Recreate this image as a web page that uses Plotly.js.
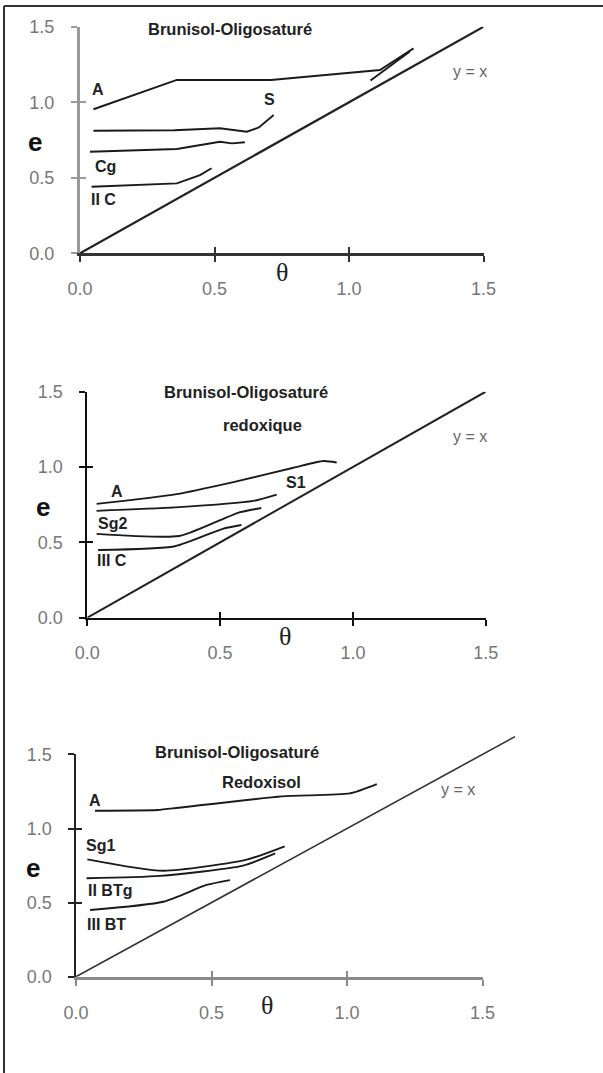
<!DOCTYPE html>
<html><head><meta charset="utf-8">
<script src="https://cdn.plot.ly/plotly-3.0.1.min.js"></script>
<style>html,body{margin:0;padding:0;background:#fff}#chart{width:603px;height:1073px}</style>
</head><body><div id="chart"></div>
<script>
// ---------- data ----------
const tickVals = [0, 0.5, 1.0, 1.5];
const tickText = ['0.0', '0.5', '1.0', '1.5'];

// Panel 1 : Brunisol-Oligosaturé
const p1_A_x   = [0.05, 0.36, 0.71, 0.82, 1.115, 1.24];
const p1_A_y   = [0.954, 1.148, 1.148, 1.166, 1.214, 1.357];
const p1_A2_x  = [1.08, 1.225];
const p1_A2_y  = [1.145, 1.335];
const p1_S_x   = [0.05, 0.35, 0.52, 0.62, 0.665, 0.72];
const p1_S_y   = [0.812, 0.815, 0.828, 0.805, 0.834, 0.916];
const p1_Cg_x  = [0.037, 0.36, 0.52, 0.565, 0.613];
const p1_Cg_y  = [0.673, 0.691, 0.739, 0.728, 0.735];
const p1_IIC_x = [0.043, 0.36, 0.446, 0.489];
const p1_IIC_y = [0.441, 0.463, 0.518, 0.563];

// Panel 2 : Brunisol-Oligosaturé redoxique
const p2_A_x   = [0.035, 0.336, 0.55, 0.776, 0.889, 0.939];
const p2_A_y   = [0.755, 0.82, 0.90, 0.995, 1.04, 1.03];
const p2_S1_x  = [0.035, 0.33, 0.625, 0.713];
const p2_S1_y  = [0.709, 0.732, 0.775, 0.817];
const p2_Sg2_x = [0.035, 0.345, 0.487, 0.575, 0.655];
const p2_Sg2_y = [0.556, 0.542, 0.637, 0.70, 0.728];
const p2_IIIC_x = [0.041, 0.33, 0.51, 0.58];
const p2_IIIC_y = [0.449, 0.474, 0.59, 0.615];

// Panel 3 : Brunisol-Oligosaturé Redoxisol
const p3_A_x    = [0.07, 0.30, 0.378, 0.76, 1.01, 1.11];
const p3_A_y    = [1.12, 1.125, 1.14, 1.217, 1.237, 1.30];
const p3_Sg1_x  = [0.042, 0.322, 0.63, 0.77];
const p3_Sg1_y  = [0.792, 0.715, 0.79, 0.88];
const p3_IIBTg_x = [0.039, 0.31, 0.617, 0.735];
const p3_IIBTg_y = [0.664, 0.68, 0.75, 0.832];
const p3_IIIBT_x = [0.052, 0.322, 0.482, 0.568];
const p3_IIIBT_y = [0.45, 0.506, 0.619, 0.652];

// y = x reference lines
const diag12 = [0, 1.5];
const diag3  = [0, 1.62];

// ---------- layout helpers ----------
const W = 603, H = 1073;
const panels = [
  {x0: 80,   sx: 269,   y0: 253.3, sy: 151,   ax: '',  ov: '4',
   yLine: {c: '#9a9a9a', w: 3}, xLine: {c: '#333', w: 3}},
  {x0: 87.3, sx: 265.6, y0: 617.7, sy: 150.7, ax: '2', ov: '5',
   yLine: {c: '#111', w: 2}, xLine: {c: '#111', w: 2.5}},
  {x0: 76,   sx: 271,   y0: 976.7, sy: 148.2, ax: '3', ov: '6',
   yLine: {c: '#222', w: 1.6}, xLine: {c: '#8a8a8a', w: 3.5}}
];
const R = tickVals[tickVals.length - 1];

function P(p, xd, yd) {
  return {x: (p.x0 + xd * p.sx) / W, y: (H - (p.y0 - yd * p.sy)) / H};
}
function dom(p, r) {
  return {
    x: [p.x0 / W, (p.x0 + r * p.sx) / W],
    y: [(H - p.y0) / H, (H - (p.y0 - r * p.sy)) / H]
  };
}

const tickFont = {family: 'Liberation Sans, Arial, sans-serif', size: 18, color: '#777'};
const layout = {
  width: W, height: H,
  margin: {l: 0, r: 0, t: 0, b: 0},
  paper_bgcolor: '#fff', plot_bgcolor: 'rgba(0,0,0,0)',
  showlegend: false,
  annotations: [], shapes: []
};

panels.forEach((p) => {
  const d = dom(p, R);
  const xn = 'xaxis' + p.ax, yn = 'yaxis' + p.ax;
  const xo = 'xaxis' + p.ov, yo = 'yaxis' + p.ov;
  const xid = 'x' + p.ax, yid = 'y' + p.ax;
  const common = {range: [0, R], tickvals: tickVals, ticktext: tickText, showgrid: false,
    zeroline: false, fixedrange: true, automargin: false, ticklen: 6, tickfont: tickFont};
  layout[xn] = Object.assign({}, common, {domain: d.x, anchor: yid, showline: true,
    linecolor: p.xLine.c, linewidth: p.xLine.w, ticks: 'outside', tickcolor: p.xLine.c,
    tickwidth: 2, ticklabelstandoff: 11});
  layout[yn] = Object.assign({}, common, {domain: d.y, anchor: xid, showline: true,
    linecolor: p.yLine.c, linewidth: p.yLine.w, ticks: 'outside', tickcolor: p.yLine.c,
    tickwidth: 2, ticklabelstandoff: 13});
  layout[xo] = Object.assign({}, common, {overlaying: xid, anchor: yid, side: 'bottom',
    showline: false, ticks: 'inside', tickcolor: p.xLine.c, tickwidth: 2, showticklabels: false});
  layout[yo] = Object.assign({}, common, {overlaying: yid, anchor: xid, side: 'left',
    showline: false, ticks: 'inside', tickcolor: p.yLine.c, tickwidth: 2, showticklabels: false});
});
// hidden axes for the long y = x line of panel 3
(function () {
  const p = panels[2], d = dom(p, 1.64);
  layout.xaxis7 = {domain: d.x, range: [0, 1.64], visible: false, fixedrange: true, anchor: 'y7'};
  layout.yaxis7 = {domain: d.y, range: [0, 1.64], visible: false, fixedrange: true, anchor: 'x7'};
})();

// ---------- traces ----------
const traces = [];
function line(x, y, xa, ya, opt) {
  opt = opt || {};
  traces.push({type: 'scatter', mode: 'lines', x: x, y: y, xaxis: xa, yaxis: ya,
    hoverinfo: 'skip', cliponaxis: false,
    line: Object.assign({color: '#1a1a1a', width: 1.9}, opt)});
}
// panel 1
line(p1_A_x, p1_A_y, 'x4', 'y');
line(p1_A2_x, p1_A2_y, 'x', 'y4');
line(p1_S_x, p1_S_y, 'x', 'y');
line(p1_Cg_x, p1_Cg_y, 'x', 'y');
line(p1_IIC_x, p1_IIC_y, 'x', 'y');
line(diag12, diag12, 'x', 'y', {width: 2.2, color: '#222'});
// panel 2
const sp = {shape: 'spline', smoothing: 0.6};
line(p2_A_x, p2_A_y, 'x5', 'y2', sp);
line(p2_S1_x, p2_S1_y, 'x2', 'y5', sp);
line(p2_Sg2_x, p2_Sg2_y, 'x2', 'y2', sp);
line(p2_IIIC_x, p2_IIIC_y, 'x2', 'y2', sp);
line(diag12, diag12, 'x2', 'y2', {width: 2, color: '#222'});
// panel 3
line(p3_A_x, p3_A_y, 'x6', 'y3', sp);
line(p3_Sg1_x, p3_Sg1_y, 'x3', 'y6', sp);
line(p3_IIBTg_x, p3_IIBTg_y, 'x3', 'y3', sp);
line(p3_IIIBT_x, p3_IIIBT_y, 'x3', 'y3', sp);
line(diag3, diag3, 'x7', 'y7', {width: 1.6, color: '#333'});

// ---------- annotations ----------
const sans = 'Liberation Sans, Arial, sans-serif';
function ann(p, xd, yd, text, font) {
  const q = P(p, xd, yd);
  layout.annotations.push({xref: 'paper', yref: 'paper', x: q.x, y: q.y, text: text,
    showarrow: false, xanchor: 'center', yanchor: 'middle', font: font});
}
const titleF = {family: sans, size: 16.5, color: '#222', weight: 'bold'};
const labF = {family: sans, size: 16, color: '#222', weight: 'bold'};
const yxF = {family: sans, size: 16, color: '#666'};
const eF = {family: sans, size: 26, color: '#111', weight: 'bold'};
const thF = {family: 'Liberation Serif, serif', size: 26, color: '#222'};

// panel 1
ann(panels[0], 0.558, 1.486, 'Brunisol-Oligosaturé', titleF);
ann(panels[0], 1.45, 1.201, 'y = x', yxF);
ann(panels[0], 0.067, 1.088, 'A', labF);
ann(panels[0], 0.703, 1.021, 'S', labF);
ann(panels[0], 0.093, 0.572, 'Cg', labF);
ann(panels[0], 0.086, 0.353, 'II C', labF);
ann(panels[0], -0.167, 0.737, 'e', eF);
ann(panels[0], 0.751, -0.13, 'θ', thF);
// panel 2
ann(panels[1], 0.598, 1.50, 'Brunisol-Oligosaturé', titleF);
ann(panels[1], 0.661, 1.279, 'redoxique', titleF);
ann(panels[1], 1.441, 1.201, 'y = x', yxF);
ann(panels[1], 0.112, 0.836, 'A', labF);
ann(panels[1], 0.786, 0.90, 'S1', labF);
ann(panels[1], 0.093, 0.622, 'Sg2', labF);
ann(panels[1], 0.093, 0.378, 'III C', labF);
ann(panels[1], -0.167, 0.737, 'e', eF);
ann(panels[1], 0.745, -0.126, 'θ', thF);
// panel 3
ann(panels[2], 0.594, 1.518, 'Brunisol-Oligosaturé', titleF);
ann(panels[2], 0.686, 1.316, 'Redoxisol', titleF);
ann(panels[2], 1.41, 1.26, 'y = x', yxF);
ann(panels[2], 0.07, 1.192, 'A', labF);
ann(panels[2], 0.089, 0.882, 'Sg1', labF);
ann(panels[2], 0.125, 0.585, 'II BTg', labF);
ann(panels[2], 0.111, 0.349, 'III BT', labF);
ann(panels[2], -0.159, 0.733, 'e', eF);
ann(panels[2], 0.705, -0.191, 'θ', thF);

// frame (left and top border)
layout.shapes.push({type: 'line', xref: 'paper', yref: 'paper', x0: 4 / W, x1: 4 / W,
  y0: 0, y1: (H - 6) / H, line: {color: '#333', width: 2}});
layout.shapes.push({type: 'line', xref: 'paper', yref: 'paper', x0: 4 / W, x1: 1,
  y0: (H - 6) / H, y1: (H - 6) / H, line: {color: '#333', width: 2}});

Plotly.newPlot('chart', traces, layout, {staticPlot: true, displayModeBar: false});
</script></body></html>
